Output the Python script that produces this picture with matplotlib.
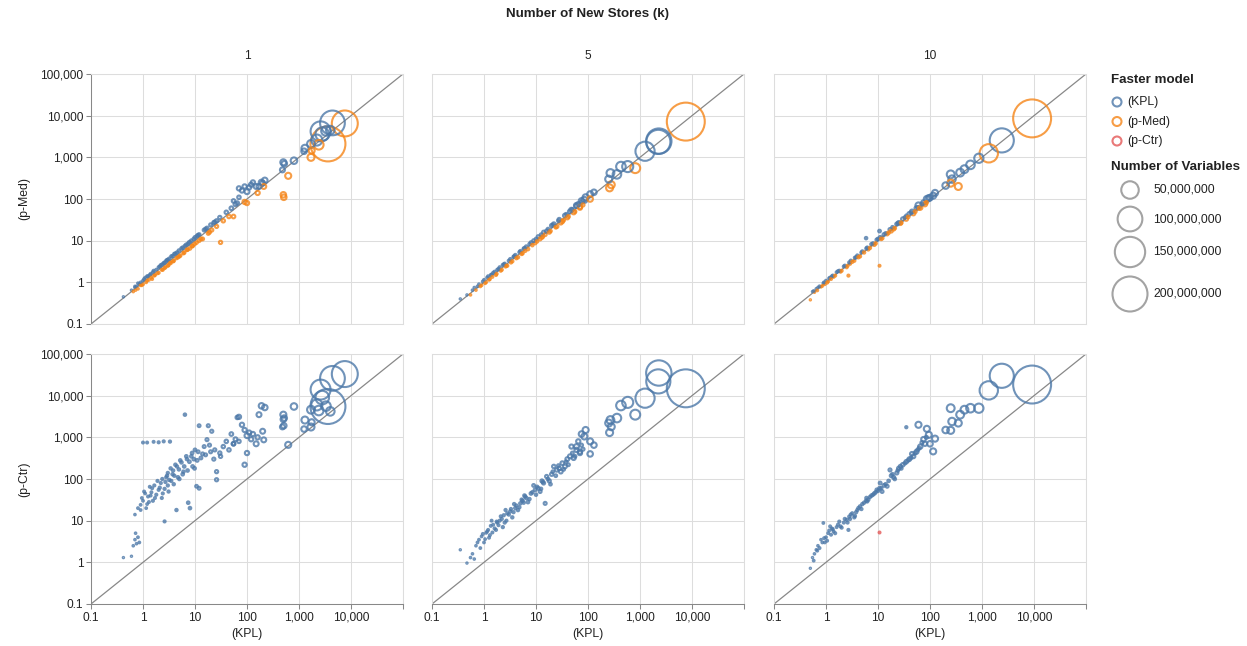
import matplotlib
matplotlib.use("Agg")
import matplotlib.pyplot as plt
from matplotlib.ticker import NullLocator
import numpy as np

plt.rcParams['font.family'] = ['Liberation Sans', 'DejaVu Sans']

k_values = ["1", "5", "10"]
model_names = ["(KPL)", "(p-Med)", "(p-Ctr)"]
model_colors = ["#4c78a8", "#f58518", "#e45756"]
legend_sizes = [50, 100, 150, 200]          # millions of variables
ticks = [0.1, 1, 10, 100, 1000, 10000, 100000]
tick_labels = ["0.1", "1", "10", "100", "1,000", "10,000", "100,000"]

# k = 1 : solve times of KPL, p-Med, p-Ctr and number of variables (millions)
kpl_k1 = [7600, 4400, 3600, 2600, 2800, 3300, 4000, 2200, 2400, 1700,
          1300, 1700, 1750, 1250, 800, 500, 520, 480, 620, 500,
          510, 190, 220, 200, 210,
          70, 80, 90, 100, 110, 120, 130, 100, 90, 70,
          150, 160, 65, 55, 170,
          0.42, 0.6, 0.65, 0.7, 0.72, 0.75, 0.8, 0.85, 0.7, 0.8,
          0.9, 1.0, 1.0, 1.1, 1.2, 1.2, 1.4, 1.5, 1.6, 1.7,
          2.0, 2.0, 2.2, 2.4, 2.5, 2.6, 2.8, 3.0, 3.0, 3.3,
          3.5, 3.8, 4.0, 4.4, 4.5, 5.0, 5.5, 6.0, 6.4, 7.0,
          7.4, 8.0, 8.5, 9.0, 10, 10.7, 11, 12, 12, 14,
          15, 17, 18, 20, 21, 24, 26, 26, 30, 31,
          35, 40, 45, 55, 50, 60,
          0.9, 0.95, 1.05, 1.15, 1.25, 1.3, 1.35, 1.45, 1.55, 1.65,
          1.8, 1.9, 2.1, 2.3, 2.35, 2.6, 2.7, 2.9, 3.1, 3.2,
          3.4, 3.7, 3.9, 4.2, 4.7, 4.9, 5.2, 5.8, 6.2, 6.8,
          7.2, 7.8, 8.8, 9.5, 9.8, 11.5, 13, 16, 19, 23]
pmed_k1 = [6500, 6700, 2100, 4200, 3600, 4300, 4500, 2600, 2000, 2100,
           1650, 1000, 1450, 1400, 830, 760, 700, 500, 360, 126,
           110, 250, 280, 240, 200,
           180, 160, 200, 150, 190, 220, 250, 80, 85, 110,
           200, 140, 80, 90, 200,
           0.45, 0.65, 0.6, 0.75, 0.65, 0.8, 0.7, 0.9, 0.8, 0.95,
           0.85, 1.1, 0.9, 1.3, 1.1, 1.4, 1.6, 1.2, 1.9, 1.5,
           2.3, 1.7, 2.6, 2.0, 2.9, 2.2, 3.3, 2.5, 3.5, 3.0,
           4.2, 3.2, 4.8, 3.8, 5.2, 4.2, 6.5, 5.0, 7.5, 6.0,
           8.5, 6.5, 10, 7.5, 12, 9.0, 13, 10, 14, 11,
           18, 20, 15, 24, 18, 28, 22, 30, 36, 9.1,
           30, 48, 38, 38, 60, 75,
           1.0, 0.85, 1.2, 1.0, 1.4, 1.15, 1.5, 1.3, 1.75, 1.45,
           2.0, 1.65, 2.4, 2.0, 2.7, 3.0, 2.3, 3.4, 2.6, 3.7,
           2.9, 4.3, 3.3, 4.9, 4.0, 5.8, 4.4, 6.8, 5.2, 8.0,
           6.1, 9.2, 7.4, 11, 8.3, 13.5, 11, 19, 16, 27]
pctr_k1 = [33000, 26000, 5500, 14000, 9000, 5600, 4200, 6000, 4400, 4600,
           2600, 1770, 2300, 1580, 5500, 3500, 2900, 1780, 660, 2700,
           1900, 5700, 5200, 1400, 870,
           3100, 2000, 1500, 1100, 1300, 900, 1200, 420, 220, 800,
           700, 1000, 3000, 700, 3500,
           1.3, 1.4, 2.5, 3.5, 5.0, 2.8, 4.0, 3.0, 14, 20,
           24, 30, 750, 45, 25, 750, 40, 60, 780, 35,
           55, 760, 80, 45, 800, 9.6, 110, 70, 140, 790,
           90, 160, 120, 18, 200, 100, 250, 150, 3500, 300,
           27, 20, 350, 200, 500, 67, 280, 60, 1900, 400,
           600, 880, 1900, 450, 1400, 500, 96, 150, 420, 350,
           600, 800, 500, 700, 1200, 900,
           18, 35, 50, 20, 38, 28, 65, 48, 30, 70,
           42, 90, 62, 35, 100, 58, 85, 120, 50, 95,
           180, 130, 75, 220, 110, 170, 280, 130, 200, 350,
           160, 260, 420, 300, 180, 450, 320, 380, 650, 300]
nvars_k1 = [110, 100, 200, 65, 30, 15, 12, 20, 15, 10,
            8, 8, 6, 5, 7, 6, 5, 4, 6, 5,
            5, 5, 5, 4, 4,
            3, 3, 3, 4, 3, 3, 3, 3, 3, 2,
            4, 3, 2, 2, 4,
            0.3, 0.3, 0.4, 0.4, 0.4, 0.4, 0.5, 0.5, 0.4, 0.5,
            0.5, 0.5, 0.6, 0.5, 0.5, 0.6, 0.6, 0.6, 0.6, 0.6,
            0.7, 0.7, 0.7, 0.7, 0.7, 0.7, 0.8, 0.8, 0.8, 0.8,
            0.8, 0.9, 0.9, 0.9, 0.9, 1.0, 1.0, 1.0, 1.0, 1.0,
            1.1, 1.1, 1.1, 1.2, 1.2, 1.2, 1.3, 1.3, 1.3, 1.4,
            1.4, 1.5, 1.5, 1.5, 1.6, 1.6, 1.7, 1.7, 1.8, 1.8,
            1.9, 2.0, 2.0, 2.2, 2.2, 2.4,
            0.5, 0.5, 0.6, 0.5, 0.6, 0.6, 0.6, 0.6, 0.7, 0.7,
            0.7, 0.7, 0.8, 0.7, 0.8, 0.8, 0.8, 0.9, 0.8, 0.9,
            0.9, 0.9, 0.9, 1.0, 1.0, 1.0, 1.0, 1.1, 1.1, 1.1,
            1.1, 1.2, 1.2, 1.2, 1.2, 1.3, 1.3, 1.4, 1.5, 1.6]

# k = 5
kpl_k5 = [7600, 2300, 2250, 1250, 810, 580, 430, 360, 270, 280,
          260, 250, 90, 85, 110, 130, 110, 75, 60, 70,
          0.35, 0.47, 0.55, 0.6, 0.65, 0.7, 0.8, 0.9, 1.0, 1.1,
          1.2, 1.3, 1.5, 1.7, 1.8, 2.0, 2.1, 2.3, 2.5, 2.8,
          3.2, 3.5, 4.0, 4.5, 5.0, 5.5, 6.5, 7.0, 8.0, 9.6,
          11, 12, 14, 15, 16, 18, 20, 25, 28, 32,
          36, 40, 45, 53, 60, 70, 1.4, 2.6, 3.8, 6.0,
          9.0, 13, 22, 30, 48, 65,
          0.75, 0.85, 0.95, 1.05, 1.15, 1.25, 1.35, 1.45, 1.6, 1.75,
          1.9, 2.2, 2.4, 2.7, 3.0, 3.3, 3.7, 4.2, 4.8, 5.3,
          5.8, 6.2, 7.5, 8.5, 10, 10.5, 12.5, 13.5, 17, 19,
          21, 24, 27, 34, 38, 42, 50, 56, 75, 80]
pmed_k5 = [7200, 2450, 2350, 1400, 550, 600, 600, 390, 420, 220,
           185, 300, 110, 95, 130, 145, 100, 90, 70, 65,
           0.4, 0.5, 0.5, 0.65, 0.75, 0.65, 0.9, 0.85, 1.15, 1.0,
           1.4, 1.2, 1.7, 1.5, 2.0, 2.3, 1.9, 2.6, 2.8, 2.5,
           3.6, 3.2, 4.5, 4.0, 5.6, 5.0, 7.2, 6.3, 9.0, 8.8,
           12.5, 11, 16, 14, 17, 16, 23, 22, 32, 29,
           40, 36, 50, 48, 68, 62, 1.55, 2.4, 4.2, 6.6,
           10, 12, 25, 27, 55, 75,
           0.8, 0.8, 1.05, 0.95, 1.3, 1.15, 1.5, 1.35, 1.8, 1.6,
           2.1, 2.0, 2.7, 2.5, 3.3, 3.0, 4.1, 3.8, 5.3, 4.8,
           6.4, 5.7, 8.3, 7.8, 11, 9.6, 14, 12.5, 19, 17,
           24, 21, 30, 31, 43, 38, 56, 50, 85, 72]
pctr_k5 = [15000, 35000, 22000, 8700, 3500, 6900, 5800, 2900, 2600, 1800,
           1300, 2200, 1500, 1050, 800, 650, 400, 1200, 600, 450,
           2.0, 0.96, 1.3, 1.6, 1.2, 2.5, 3.5, 4.2, 3.0, 5.1,
           6.0, 4.5, 8, 6, 9, 10, 12.7, 7, 9, 15,
           16.7, 12, 20, 18, 26, 30, 35, 28, 45, 55,
           60, 50, 80, 26, 115, 90, 130, 165, 180, 240,
           200, 300, 350, 320, 500, 420, 10, 18, 25, 40,
           70, 90, 200, 150, 600, 800,
           3.0, 2.2, 4.8, 3.6, 5.5, 3.9, 7.5, 5.2, 6.5, 9.5,
           7.8, 11, 13.5, 10, 14, 19, 16, 23, 21, 32,
           27, 38, 33, 48, 42, 65, 58, 85, 100, 75,
           150, 120, 210, 170, 260, 220, 420, 350, 650, 520]
nvars_k5 = [235, 105, 95, 60, 16, 20, 15, 12, 10, 8,
            8, 8, 6, 6, 6, 5, 5, 5, 4, 3,
            0.3, 0.3, 0.4, 0.4, 0.4, 0.4, 0.5, 0.5, 0.5, 0.5,
            0.6, 0.6, 0.6, 0.7, 0.7, 0.7, 0.7, 0.8, 0.8, 0.8,
            0.9, 0.9, 1.0, 1.0, 1.0, 1.1, 1.1, 1.2, 1.2, 1.3,
            1.4, 1.4, 1.5, 1.5, 1.6, 1.6, 1.8, 2.0, 2.0, 2.2,
            2.4, 2.4, 2.6, 2.8, 3.0, 3.0, 0.6, 0.8, 0.9, 1.1,
            1.3, 1.5, 2.0, 2.2, 2.8, 3.0,
            0.5, 0.5, 0.6, 0.5, 0.6, 0.6, 0.6, 0.6, 0.7, 0.7,
            0.7, 0.7, 0.8, 0.7, 0.8, 0.8, 0.8, 0.9, 0.8, 0.9,
            0.9, 0.9, 0.9, 1.0, 1.0, 1.0, 1.0, 1.1, 1.1, 1.1,
            1.1, 1.2, 1.2, 1.2, 1.2, 1.3, 1.3, 1.4, 1.5, 1.6]

# k = 10
kpl_k10 = [9200, 2400, 1350, 870, 600, 460, 380, 250, 265, 350,
           250, 200, 60, 87, 95, 125, 115, 100,
           0.5, 0.55, 0.6, 0.7, 0.8, 0.89, 0.95, 1.0, 1.1, 1.2,
           1.4, 1.6, 1.9, 2.2, 2.5, 2.7, 3.0, 3.5, 4.0, 4.5,
           5.0, 5.9, 6.5, 7.5, 8.5, 9.5, 10.7, 10.7, 12, 13,
           15, 17, 20, 23, 27, 30, 35, 35, 40, 48,
           55, 65, 75, 80, 0.65, 1.3, 1.8, 2.9, 3.8, 6.0,
           11, 18, 25, 45,
           0.58, 0.68, 0.75, 0.85, 0.92, 1.05, 1.15, 1.25, 1.35, 1.5,
           1.7, 2.0, 2.3, 2.6, 2.8, 3.2, 3.6, 4.2, 4.8, 5.4,
           6.2, 7.0, 8.0, 9.0, 10, 11.5, 14, 16, 19, 21,
           24, 28, 33, 38, 43, 52, 58, 62, 70, 85]
pmed_k10 = [8600, 2550, 1250, 950, 660, 520, 430, 390, 300, 200,
            240, 210, 70, 100, 105, 140, 120, 108,
            0.38, 0.6, 0.58, 0.75, 0.78, 0.95, 0.9, 1.1, 1.05, 1.3,
            1.35, 1.75, 1.8, 2.4, 2.3, 1.45, 3.3, 3.3, 4.4, 4.2,
            5.5, 11.5, 6.2, 8.2, 8.0, 10.5, 2.5, 17, 11.5, 14,
            14.5, 18.5, 19, 25, 26, 33, 40, 33, 44, 45,
            60, 62, 82, 75, 0.7, 1.4, 1.9, 2.8, 4.0, 6.5,
            12, 17, 27, 50,
            0.62, 0.64, 0.8, 0.82, 1.0, 0.98, 1.25, 1.2, 1.45, 1.45,
            1.85, 1.9, 2.5, 2.5, 3.0, 3.1, 3.9, 4.0, 5.2, 5.2,
            6.8, 6.7, 8.6, 8.6, 11, 11, 15, 15.5, 21, 20,
            26, 27, 36, 37, 47, 50, 63, 60, 76, 82]
pctr_k10 = [18500, 30000, 13400, 5000, 5000, 4600, 3500, 5000, 2400, 2200,
            1470, 1500, 2000, 1600, 1150, 930, 460, 700,
            0.72, 1.3, 1.6, 2.5, 3.5, 8.8, 3.0, 4.0, 5.0, 7.3,
            5.5, 7, 7.3, 9, 10.5, 6, 14, 12, 18, 22,
            25, 30, 32, 40, 45, 55, 5.2, 60, 50, 70,
            67, 165, 110, 140, 200, 220, 1750, 260, 300, 350,
            450, 600, 900, 700, 2.0, 6.5, 9.5, 11, 16, 35,
            80, 120, 180, 400,
            1.1, 1.9, 2.2, 3.0, 3.8, 3.3, 5.8, 4.6, 6.2, 5.0,
            8.0, 6.8, 11, 9.0, 12.5, 15, 13, 20, 19, 27,
            29, 37, 42, 48, 52, 60, 75, 90, 130, 100,
            160, 180, 240, 280, 320, 420, 500, 550, 750, 1000]
nvars_k10 = [235, 95, 55, 14, 12, 10, 10, 10, 9, 8,
             8, 7, 6, 6, 6, 6, 6, 5,
             0.3, 0.3, 0.4, 0.4, 0.4, 0.5, 0.5, 0.5, 0.5, 0.6,
             0.6, 0.6, 0.7, 0.7, 0.7, 0.7, 0.8, 0.8, 0.8, 0.9,
             0.9, 1.0, 1.0, 1.1, 1.1, 1.2, 0.6, 1.2, 1.3, 1.3,
             1.4, 1.5, 1.5, 1.6, 1.8, 2.0, 0.8, 2.0, 2.2, 2.4,
             2.6, 3.0, 3.5, 3.0, 0.4, 0.6, 0.7, 0.8, 0.9, 1.0,
             1.3, 1.5, 1.8, 2.5,
             0.5, 0.5, 0.6, 0.5, 0.6, 0.6, 0.6, 0.6, 0.7, 0.7,
             0.7, 0.7, 0.8, 0.7, 0.8, 0.8, 0.8, 0.9, 0.8, 0.9,
             0.9, 0.9, 0.9, 1.0, 1.0, 1.0, 1.0, 1.1, 1.1, 1.1,
             1.1, 1.2, 1.2, 1.2, 1.2, 1.3, 1.3, 1.4, 1.5, 1.6]

columns = [(kpl_k1, pmed_k1, pctr_k1, nvars_k1),
           (kpl_k5, pmed_k5, pctr_k5, nvars_k5),
           (kpl_k10, pmed_k10, pctr_k10, nvars_k10)]

W, H = 1247, 646
fig = plt.figure(figsize=(W / 100, H / 100), dpi=100)


def px_box(left, top, w, h):
    return [left / W, 1 - (top + h) / H, w / W, h / H]


def marker_area(nv):
    # circle diameter in px ~ 35 * sqrt(n / 200M), converted to pt^2
    d = 35 * np.sqrt(np.asarray(nv, dtype=float) / 200.0)
    return (d * 0.72) ** 2


col_left = [91, 432, 774]
row_top = [74, 354]
pw, ph = 312, 250
lw_pt = 1.5
txt = '#222222'

for c, (kpl, pmed, pctr, nv) in enumerate(columns):
    kpl = np.array(kpl, dtype=float)
    sizes = marker_area(nv)
    for r, other in enumerate([pmed, pctr]):
        other = np.array(other, dtype=float)
        ax = fig.add_axes(px_box(col_left[c], row_top[r], pw, ph))
        ax.set_xscale('log')
        ax.set_yscale('log')
        ax.set_xlim(0.1, 1e5)
        ax.set_ylim(0.1, 1e5)
        ax.set_xticks(ticks)
        ax.set_yticks(ticks)
        ax.xaxis.set_minor_locator(NullLocator())
        ax.yaxis.set_minor_locator(NullLocator())
        ax.grid(True, color='#dddddd', lw=0.75, zorder=0)
        ax.set_axisbelow(True)
        for sp in ax.spines.values():
            sp.set_color('#dddddd')
            sp.set_linewidth(0.75)

        ax.plot([0.1, 1e5], [0.1, 1e5], color='#888888', lw=0.9, zorder=1)

        if r == 0:
            cols = np.where(other >= kpl, model_colors[0], model_colors[1])
        else:
            cols = np.where(other >= kpl, model_colors[0], model_colors[2])
        ax.scatter(kpl, other, s=sizes, facecolors='none', edgecolors=cols,
                   linewidths=lw_pt, alpha=0.8, zorder=2, clip_on=False)

        if c == 0:
            ax.spines['left'].set_color('#888888')
            ax.set_yticklabels(tick_labels, fontsize=8.6, color=txt)
            ax.tick_params(axis='y', length=3.6, width=0.75, color='#888888', pad=2)
            ax.set_ylabel(model_names[r + 1], fontsize=8.8, color=txt, labelpad=7)
        else:
            ax.tick_params(axis='y', length=0, labelleft=False)
        if r == 1:
            ax.spines['bottom'].set_color('#888888')
            ax.set_xticklabels(tick_labels[:-1] + [""], fontsize=8.6, color=txt)
            ax.tick_params(axis='x', length=3.6, width=0.75, color='#888888', pad=2)
            ax.set_xlabel(model_names[0], fontsize=8.8, color=txt, labelpad=3)
        else:
            ax.tick_params(axis='x', length=0, labelbottom=False)
            ax.set_title(k_values[c], fontsize=8.6, color=txt, pad=11)

fig.text(588 / W, 1 - 14 / H, "Number of New Stores (k)", fontsize=9.6,
         fontweight='bold', ha='center', va='center', color=txt)

# legend drawn in pixel coordinates
leg = fig.add_axes([0, 0, 1, 1])
leg.set_xlim(0, W)
leg.set_ylim(H, 0)
leg.axis('off')
leg.text(1111, 80, "Faster model", fontsize=9.6, fontweight='bold',
         ha='left', va='center', color=txt)
for i, (name, col) in enumerate(zip(model_names, model_colors)):
    yy = 102 + i * 19.5
    leg.scatter([1117], [yy], s=(9 * 0.72) ** 2, facecolors='none',
                edgecolors=col, linewidths=lw_pt, alpha=0.8)
    leg.text(1127, yy, name, fontsize=8.8, ha='left', va='center', color=txt)
leg.text(1111, 167, "Number of Variables", fontsize=9.6, fontweight='bold',
         ha='left', va='center', color=txt)
size_y = [190, 219, 252, 294]
for v, yy in zip(legend_sizes, size_y):
    leg.scatter([1130], [yy], s=marker_area([v]), facecolors='none',
                edgecolors='#8c8c8c', linewidths=lw_pt, alpha=0.8)
    leg.text(1153, yy, "{:,}".format(v * 1000000), fontsize=8.8,
             ha='left', va='center', color=txt)

fig.savefig("out.png", dpi=100)
